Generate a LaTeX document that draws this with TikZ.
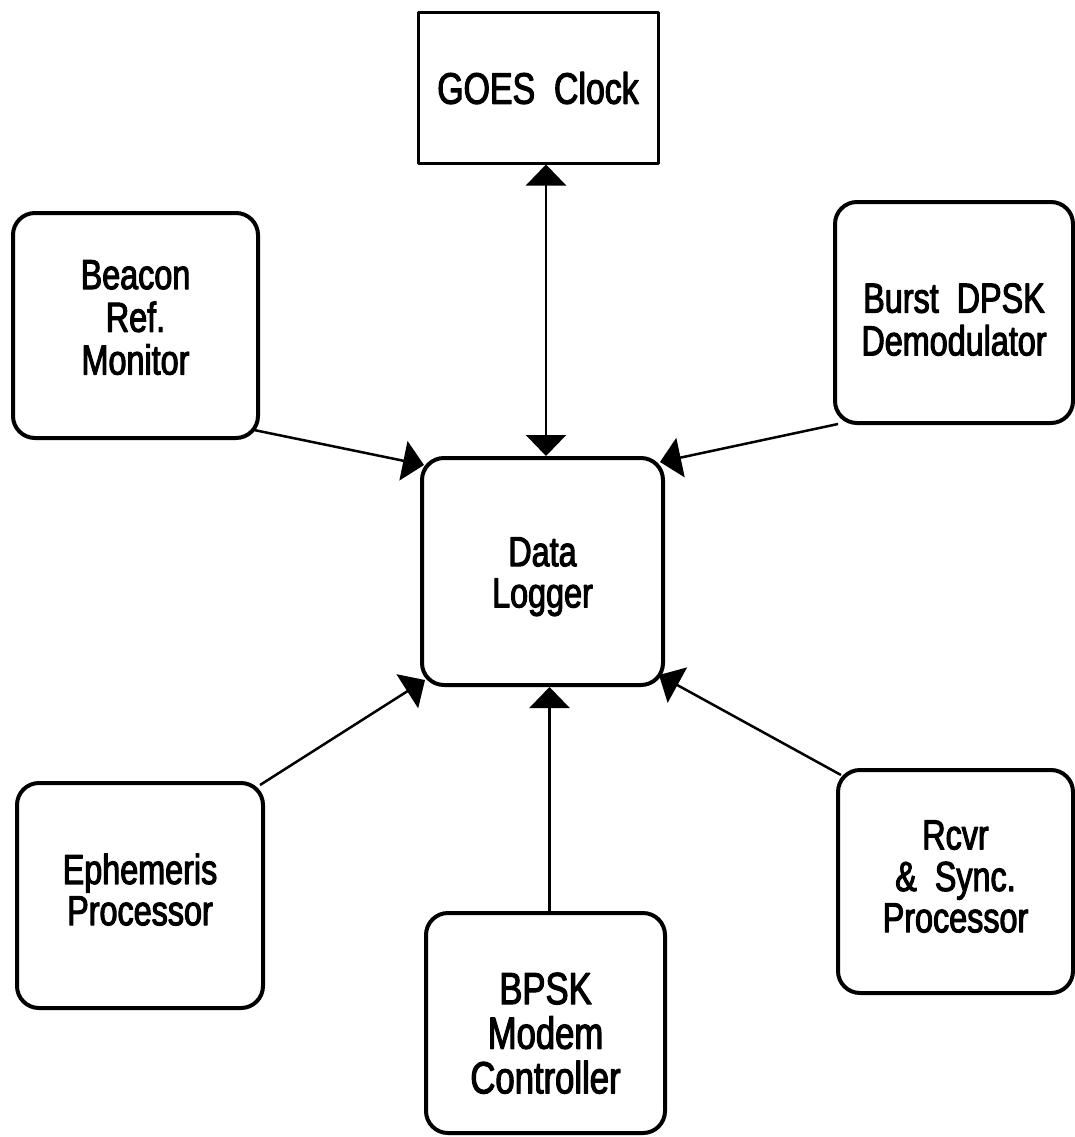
\documentclass[tikz,border=0pt]{standalone}
\usepackage{fontspec}
\setmainfont[FakeStretch=0.77,FakeBold=2.5]{Liberation Sans}
\usetikzlibrary{arrows.meta}

% text of a block, lowered a little inside its box
\newcommand{\lowered}[2]{\raisebox{-#1pt}[\height][\depth]{\begin{tabular}{@{}c@{}}#2\end{tabular}}}

\begin{document}
\begin{tikzpicture}[x=1pt,y=-1pt,line join=round,>={Triangle[length=21pt,width=40pt]}]
    \tikzstyle{unit}=[draw=black,line width=4pt,rounded corners=22pt,fill=white,align=center,inner sep=0pt,font=\fontsize{42}{41}\selectfont]
    \tikzstyle{bigunit}=[unit,font=\fontsize{45}{40}\selectfont]
    \tikzstyle{clock}=[draw=black,line width=3pt,align=center,inner sep=0pt,font=\fontsize{44}{44}\selectfont,minimum width=240pt,minimum height=150pt]
    \tikzstyle{link}=[line width=2.5pt]
    \useasboundingbox (0,0) rectangle (1075,1137);

    \node[clock] (goes) at (538,88) {GOES\ \ Clock};
    \foreach \name/\x/\y/\w/\h/\dy/\st/\txt in {
            logger/542.5/571.5/241/227/7/unit/{Data\\Logger},
            beacon/135.5/325.5/245/225/-2/unit/{Beacon\\Ref.\\Monitor},
            burst/954/312.5/238/221/13/unit/{Burst\ \ DPSK\\Demodulator},
            ephem/140/895.5/246/225/0/unit/{Ephemeris\\Processor},
            bpsk/545.5/1023/239/220/16/bigunit/{BPSK\\Modem\\Controller},
            rcvr/955.5/881.5/235/223/1/unit/{Rcvr\\\&\ \ Sync.\\Processor}}
        \node[\st,minimum width=\w pt,minimum height=\h pt] (\name) at (\x,\y) {\lowered{\dy}{\txt}};

    \draw[link,<->] ([xshift=8pt]goes.south) -- ([xshift=3.5pt]logger.north);
    \draw[link,->] ([xshift=-6pt,yshift=10pt]beacon.south east) -- ([xshift=4pt,yshift=-9pt]logger.north west);
    \draw[link,->] ([xshift=5pt,yshift=1pt]burst.south west) -- ([xshift=-5pt,yshift=-6pt]logger.north east);
    \draw[link,->] ([xshift=-5pt,yshift=-4pt]ephem.north east) -- ([xshift=5pt,yshift=7pt]logger.south west);
    \draw[link,->] ([xshift=4pt]bpsk.north) -- ([xshift=7pt]logger.south);
    \draw[link,->] ([xshift=5pt,yshift=-7pt]rcvr.north west) -- ([xshift=-6pt,yshift=12pt]logger.south east);
\end{tikzpicture}
\end{document}
